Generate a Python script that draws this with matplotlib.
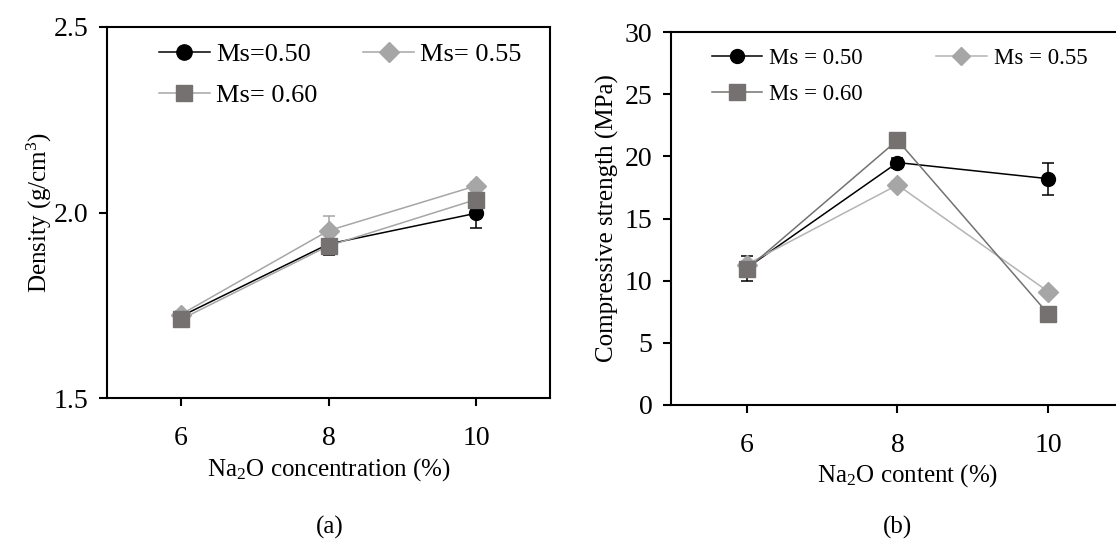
import matplotlib
matplotlib.use("Agg")
import matplotlib.pyplot as plt
from matplotlib.lines import Line2D

plt.rcParams['font.family'] = ['Liberation Serif', 'DejaVu Serif']
plt.rcParams['mathtext.fontset'] = 'custom'
plt.rcParams['mathtext.rm'] = 'Liberation Serif'
plt.rcParams['mathtext.it'] = 'Liberation Serif:italic'

# ---- data ----
na2o = [6, 8, 10]
density_050 = [1.72, 1.915, 1.998]
density_055 = [1.725, 1.951, 2.072]
density_060 = [1.712, 1.910, 2.035]
density_err_050 = [0.01, 0.03, 0.04]
density_err_055 = [0.01, 0.04, 0.01]
density_err_060 = [0.01, 0.01, 0.01]

strength_050 = [11.0, 19.5, 18.2]
strength_055 = [11.3, 17.7, 9.1]
strength_060 = [10.9, 21.3, 7.3]
strength_err_050 = [1.0, 0.4, 1.3]
strength_err_055 = [0.3, 0.3, 0.3]
strength_err_060 = [0.3, 0.3, 0.3]

xticks = [6, 8, 10]
dens_yticks = [1.5, 2.0, 2.5]
str_yticks = [0, 5, 10, 15, 20, 25, 30]

W, H = 1116, 547
fig = plt.figure(figsize=(W / 100, H / 100), dpi=100)

FS = 18
TFS = 20
BLACK = '#000000'
LIGHT = '#a6a6a6'
LIGHTER = '#b4b4b4'
DARK = '#767171'


def px_axes(x0, y0, x1, y1):
    return fig.add_axes([x0 / W, 1 - y1 / H, (x1 - x0) / W, (y1 - y0) / H])


def style(ax):
    for s in ax.spines.values():
        s.set_linewidth(1.5)
    ax.tick_params(direction='out', length=5.5, width=1.5, labelsize=TFS,
                   top=False, right=False)
    ax.tick_params(axis='x', pad=15)
    ax.tick_params(axis='y', pad=8)


eb = dict(lw=1.1, capsize=4.5, elinewidth=1.1, capthick=1.1)

# ---- (a) density ----
ax1 = px_axes(107, 27, 550, 398)
ax1.errorbar(na2o, density_050, yerr=density_err_050, color=BLACK,
             marker='o', ms=10, mfc=BLACK, mec=BLACK, zorder=3, **eb)
ax1.errorbar(na2o, density_055, yerr=density_err_055, color=LIGHT,
             marker='D', ms=10, mfc=LIGHT, mec=LIGHT, zorder=4, **eb)
ax1.errorbar(na2o, density_060, yerr=density_err_060, color=LIGHT,
             marker='s', ms=12, mfc=DARK, mec=DARK, ecolor=DARK, zorder=5, **eb)
ax1.set_xlim(5, 11)
ax1.set_ylim(1.5, 2.5)
ax1.set_xticks(xticks)
ax1.set_yticks(dens_yticks)
ax1.set_yticklabels([f'{v:.1f}' for v in dens_yticks])
style(ax1)
ax1.set_ylabel('Density (g/cm$^3$)', fontsize=FS)
ax1.yaxis.set_label_coords(-0.12, 0.5)
ax1.set_xlabel('Na$_2$O concentration (%)', fontsize=FS)
ax1.xaxis.set_label_coords((329 - 107) / 443, (398 - 470) / 371)
ax1.xaxis.label.set_va('center')

h1 = [Line2D([], [], color=BLACK, lw=1.1, marker='o', ms=11, mfc=BLACK, mec=BLACK),
      Line2D([], [], color=LIGHT, lw=1.1, marker='s', ms=12, mfc=DARK, mec=DARK),
      Line2D([], [], color=LIGHT, lw=1.1, marker='D', ms=10, mfc=LIGHT, mec=LIGHT)]
l1 = ['Ms=0.50', 'Ms= 0.60', 'Ms= 0.55']
ax1.legend(h1, l1, ncol=2, frameon=False, fontsize=19, loc='upper left',
           bbox_to_anchor=(0.117, 0.957), borderpad=0, borderaxespad=0,
           handlelength=1.93, handletextpad=0.23,
           columnspacing=1.75, labelspacing=0.64)

# ---- (b) compressive strength ----
ax2 = px_axes(671, 32, 1124, 405)
ax2.errorbar(na2o, strength_050, yerr=strength_err_050, color=BLACK,
             marker='o', ms=10, mfc=BLACK, mec=BLACK, zorder=3, **eb)
ax2.errorbar(na2o, strength_055, yerr=strength_err_055, color=LIGHTER,
             marker='D', ms=10, mfc=LIGHT, mec=LIGHT, zorder=4, **eb)
ax2.errorbar(na2o, strength_060, yerr=strength_err_060, color=DARK,
             marker='s', ms=12, mfc=DARK, mec=DARK, zorder=5, **eb)
ax2.set_xlim(5, 11)
ax2.set_ylim(0, 30)
ax2.set_xticks(xticks)
ax2.set_yticks(str_yticks)
style(ax2)
ax2.set_ylabel('Compressive strength (MPa)', fontsize=FS)
ax2.yaxis.set_label_coords(-0.115, 0.5)
ax2.set_xlabel('Na$_2$O content (%)', fontsize=FS)
ax2.xaxis.set_label_coords((908 - 671) / 453, (405 - 476) / 373)
ax2.xaxis.label.set_va('center')

h2 = [Line2D([], [], color=BLACK, lw=1.1, marker='o', ms=10, mfc=BLACK, mec=BLACK),
      Line2D([], [], color=DARK, lw=1.1, marker='s', ms=11, mfc=DARK, mec=DARK),
      Line2D([], [], color=LIGHTER, lw=1.1, marker='D', ms=9, mfc=LIGHT, mec=LIGHT)]
l2 = ['Ms = 0.50', 'Ms = 0.60', 'Ms = 0.55']
ax2.legend(h2, l2, ncol=2, frameon=False, fontsize=16.5, loc='upper left',
           bbox_to_anchor=(0.0905, 0.958), borderpad=0, borderaxespad=0,
           handlelength=2.2, handletextpad=0.3,
           columnspacing=3.2, labelspacing=0.66)

# panel captions
fig.text(330 / W, 1 - 527 / H, '(a)', fontsize=FS, ha='center', va='center')
fig.text(898 / W, 1 - 527 / H, '(b)', fontsize=FS, ha='center', va='center')

fig.savefig('out.png', dpi=100)
